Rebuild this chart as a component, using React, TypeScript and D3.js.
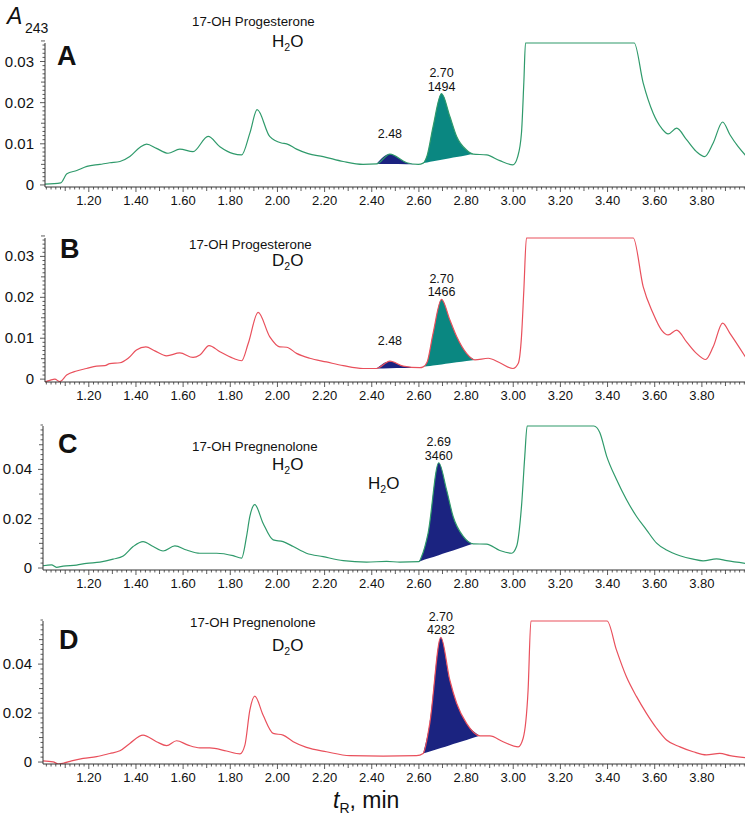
import * as d3 from "d3";

// retention time (min), absorbance at 243 nm
const traceA: [number, number][] = [
  [1.0136, 0.0002], [1.081, 0.0005], [1.107, 0.0027], [1.149, 0.0035], [1.192, 0.0045],
  [1.247, 0.005], [1.289, 0.0054], [1.332, 0.0057], [1.374, 0.0069], [1.416, 0.0091],
  [1.445, 0.0099], [1.487, 0.0089], [1.536, 0.0077], [1.586, 0.0087], [1.642, 0.0081],
  [1.706, 0.0118], [1.756, 0.0093], [1.812, 0.0076], [1.848, 0.0073], [1.883, 0.0126],
  [1.914, 0.0183], [1.967, 0.0118], [2.017, 0.0102], [2.039, 0.01], [2.081, 0.0087],
  [2.13, 0.0076], [2.194, 0.0069], [2.279, 0.0057], [2.363, 0.005], [2.42, 0.0051],
  [2.477, 0.0075], [2.548, 0.0054], [2.597, 0.005], [2.618, 0.0053], [2.635, 0.0072],
  [2.66, 0.0142], [2.696, 0.0222], [2.731, 0.0167], [2.76, 0.0118], [2.802, 0.0085],
  [2.83, 0.0075], [2.887, 0.0073], [2.943, 0.0059], [2.999, 0.0049], [3.019, 0.0069],
  [3.035, 0.0127], [3.045, 0.025], [3.052, 0.0345], [3.513, 0.0345], [3.551, 0.0248],
  [3.593, 0.0175], [3.629, 0.0138], [3.657, 0.0124], [3.693, 0.0138], [3.735, 0.011],
  [3.777, 0.0081], [3.812, 0.0069], [3.848, 0.0102], [3.888, 0.0153], [3.919, 0.0122],
  [3.954, 0.0093], [3.985, 0.0072],
];

const traceB: [number, number][] = [
  [1.0136, -0.0007], [1.035, -0.0003], [1.056, 0.0], [1.077, -0.0006], [1.106, 0.001],
  [1.148, 0.002], [1.19, 0.0026], [1.233, 0.0032], [1.268, 0.0033], [1.289, 0.0038],
  [1.332, 0.004], [1.367, 0.0051], [1.402, 0.0071], [1.442, 0.0079], [1.48, 0.0069],
  [1.53, 0.0057], [1.586, 0.0064], [1.642, 0.0053], [1.671, 0.0059], [1.71, 0.0082],
  [1.756, 0.0067], [1.812, 0.0051], [1.848, 0.0045], [1.876, 0.0087], [1.918, 0.0163],
  [1.967, 0.0104], [2.01, 0.0079], [2.039, 0.0078], [2.081, 0.0063], [2.137, 0.0051],
  [2.208, 0.0042], [2.279, 0.0033], [2.363, 0.0026], [2.42, 0.0026], [2.477, 0.0044],
  [2.533, 0.0032], [2.604, 0.0028], [2.618, 0.003], [2.635, 0.0042], [2.66, 0.0112],
  [2.696, 0.0195], [2.731, 0.0145], [2.76, 0.0104], [2.802, 0.0063], [2.837, 0.0047],
  [2.894, 0.0051], [2.943, 0.004], [2.999, 0.0026], [3.021, 0.0038], [3.035, 0.0104],
  [3.045, 0.0218], [3.056, 0.0345], [3.509, 0.0345], [3.551, 0.0226], [3.593, 0.0161],
  [3.629, 0.012], [3.657, 0.0108], [3.693, 0.012], [3.735, 0.0091], [3.777, 0.0063],
  [3.816, 0.0048], [3.848, 0.0079], [3.888, 0.0137], [3.919, 0.0112], [3.985, 0.0054],
];

const traceC: [number, number][] = [
  [1.004, 0.0009], [1.042, 0.0013], [1.063, 0.0003], [1.091, 0.0008], [1.148, 0.0012],
  [1.19, 0.0019], [1.247, 0.0024], [1.303, 0.0036], [1.346, 0.0049], [1.388, 0.0087],
  [1.43, 0.0107], [1.473, 0.0087], [1.515, 0.0069], [1.565, 0.009], [1.615, 0.0073],
  [1.671, 0.006], [1.742, 0.006], [1.812, 0.005], [1.848, 0.004], [1.869, 0.0128],
  [1.883, 0.0209], [1.904, 0.0257], [1.939, 0.0182], [1.982, 0.0114], [2.024, 0.0107],
  [2.067, 0.0087], [2.123, 0.006], [2.194, 0.0046], [2.279, 0.003], [2.378, 0.0024],
  [2.463, 0.0027], [2.519, 0.0024], [2.6, 0.0026], [2.611, 0.0046], [2.639, 0.0142],
  [2.684, 0.0427], [2.717, 0.0318], [2.745, 0.0209], [2.788, 0.0128], [2.83, 0.0098],
  [2.887, 0.0097], [2.943, 0.0071], [2.993, 0.006], [3.014, 0.0087], [3.035, 0.025],
  [3.049, 0.0454], [3.059, 0.0576], [3.342, 0.0576], [3.367, 0.055], [3.396, 0.0454],
  [3.438, 0.0359], [3.48, 0.0278], [3.523, 0.0209], [3.565, 0.0155], [3.608, 0.0101],
  [3.65, 0.0073], [3.707, 0.005], [3.763, 0.0036], [3.805, 0.0029], [3.862, 0.0037],
  [3.905, 0.003], [3.985, 0.0019],
];

const traceD: [number, number][] = [
  [1.006, 0.0005], [1.049, 0.0001], [1.07, -0.0008], [1.091, -0.0005], [1.127, 0.0005],
  [1.176, 0.0015], [1.233, 0.0022], [1.289, 0.0035], [1.332, 0.0046], [1.374, 0.0076],
  [1.43, 0.011], [1.487, 0.0083], [1.53, 0.0067], [1.572, 0.0087], [1.621, 0.0069],
  [1.671, 0.0058], [1.713, 0.0058], [1.784, 0.0045], [1.841, 0.0033], [1.862, 0.0069],
  [1.883, 0.0212], [1.904, 0.0269], [1.939, 0.0192], [1.982, 0.0117], [2.024, 0.011],
  [2.067, 0.0083], [2.123, 0.006], [2.208, 0.0042], [2.307, 0.0026], [2.448, 0.0024],
  [2.59, 0.0026], [2.618, 0.0035], [2.646, 0.0158], [2.693, 0.0509], [2.731, 0.0335],
  [2.76, 0.024], [2.802, 0.0158], [2.858, 0.0107], [2.901, 0.0107], [2.957, 0.0083],
  [3.021, 0.0062], [3.042, 0.0097], [3.063, 0.0294], [3.075, 0.0576], [3.398, 0.0576],
  [3.438, 0.0457], [3.48, 0.0348], [3.523, 0.0267], [3.565, 0.0199], [3.608, 0.0138],
  [3.65, 0.009], [3.707, 0.0062], [3.763, 0.0042], [3.819, 0.0029], [3.876, 0.0035],
  [3.919, 0.0026], [3.985, 0.0018],
];

// integrated peaks: [from, to] retention times
const fillsA = [
  { from: 2.42, to: 2.597, kind: "navy" },
  { from: 2.618, to: 2.83, kind: "teal" },
];
const fillsB = [
  { from: 2.42, to: 2.604, kind: "navy" },
  { from: 2.618, to: 2.837, kind: "teal" },
];
const fillsC = [{ from: 2.6, to: 2.83, kind: "navy" }];
const fillsD = [{ from: 2.618, to: 2.858, kind: "navy" }];

// peak annotations: retention time, lines of text
const peaksA = [
  { t: 2.477, lines: ["2.48"] },
  { t: 2.696, lines: ["2.70", "1494"] },
];
const peaksB = [
  { t: 2.477, lines: ["2.48"] },
  { t: 2.696, lines: ["2.70", "1466"] },
];
const peaksC = [{ t: 2.684, lines: ["2.69", "3460"] }];
const peaksD = [{ t: 2.693, lines: ["2.70", "4282"] }];

const xTickLabels = ["1.20", "1.40", "1.60", "1.80", "2.00", "2.20", "2.40", "2.60", "2.80", "3.00", "3.20", "3.40", "3.60", "3.80"];
const yTicksSmall = [0, 0.01, 0.02, 0.03];
const yTicksLarge = [0, 0.02, 0.04];

const GREEN = "#2f9a6b";
const RED = "#e9505c";
const FILLS: Record<string, string> = { navy: "#1b2380", teal: "#0a8781" };
const FONT = "Liberation Sans, Arial, Helvetica, sans-serif";

const xScale = d3.scaleLinear().domain([1.01, 3.985]).range([44, 745.5]);

type PanelProps = {
  letter: string;
  trace: [number, number][];
  fills: { from: number; to: number; kind: string }[];
  peaks: { t: number; lines: string[] }[];
  color: string;
  yDomain: [number, number];
  yRange: [number, number];
  axisX: number;
  yTicks: number[];
  minorStep: number;
  compound: string;
  compoundPos: [number, number];
  solvent: string;
  solventPos: [number, number];
  letterPos: [number, number];
};

function SubText({ x, y, a, b, size }: { x: number; y: number; a: string; b: string; size: number }) {
  return (
    <text x={x} y={y} fontSize={size} fontFamily={FONT} fill="#111">
      {a}
      <tspan fontSize={size * 0.62} dy={4}>2</tspan>
      <tspan dy={-4}>{b}</tspan>
    </text>
  );
}

function Panel(p: PanelProps) {
  const y = d3.scaleLinear().domain(p.yDomain).range(p.yRange);
  const bottom = p.yRange[0];
  const top = p.yRange[1];
  const clipId = "clip" + p.letter;

  const line = d3
    .line<[number, number]>()
    .x((d) => xScale(d[0]))
    .y((d) => y(d[1]))
    .curve(d3.curveMonotoneX);

  const areas = p.fills.map((f) => {
    const pts = p.trace.filter((d) => d[0] >= f.from - 1e-6 && d[0] <= f.to + 1e-6);
    const [t0, v0] = pts[0];
    const [t1, v1] = pts[pts.length - 1];
    const base = (t: number) => v0 + ((t - t0) / (t1 - t0)) * (v1 - v0);
    const area = d3
      .area<[number, number]>()
      .x((d) => xScale(d[0]))
      .y0((d) => y(base(d[0])))
      .y1((d) => y(d[1]))
      .curve(d3.curveMonotoneX);
    return { d: area(pts) || "", color: FILLS[f.kind] };
  });

  const yMinor = d3.range(0, Math.round(p.yDomain[1] / p.minorStep) + 1).map((i) => i * p.minorStep);
  const xMinor = d3.range(51, 200).map((i) => i * 0.02).filter((t) => t >= xScale.domain()[0] && t <= xScale.domain()[1]);

  return (
    <g>
      <defs>
        <clipPath id={clipId}>
          <rect x={p.axisX} y={top - 3} width={746 - p.axisX} height={bottom - top + 3} />
        </clipPath>
      </defs>
      <g clipPath={`url(#${clipId})`}>
        {areas.map((a, i) => (
          <path key={i} d={a.d} fill={a.color} stroke="none" />
        ))}
        <path d={line(p.trace) || ""} fill="none" stroke={p.color} strokeWidth={1.2} />
      </g>

      {/* y axis */}
      <line x1={p.axisX} x2={p.axisX} y1={top} y2={bottom} stroke="#333" strokeWidth={1} />
      {yMinor.map((v, i) => {
        const major = p.yTicks.some((t) => Math.abs(t - v) < 1e-9);
        const mid = Math.abs((v / p.minorStep) % 5) < 1e-6;
        const len = major ? 5 : mid ? 4 : 2.5;
        return <line key={i} x1={p.axisX - len} x2={p.axisX} y1={y(v)} y2={y(v)} stroke="#333" strokeWidth={0.8} />;
      })}
      {p.yTicks.map((v) => (
        <text key={v} x={p.axisX - 11} y={y(v) + 5} textAnchor="end" fontSize={15} fontFamily={FONT} fill="#111">
          {v === 0 ? "0" : d3.format(".2f")(v)}
        </text>
      ))}

      {/* x axis */}
      <line x1={p.axisX} x2={745} y1={bottom} y2={bottom} stroke="#333" strokeWidth={1} />
      {xMinor.map((t, i) => {
        const k = Math.round(t * 100);
        const len = k % 20 === 0 ? 5 : k % 10 === 0 ? 4 : 2.5;
        return <line key={i} x1={xScale(t)} x2={xScale(t)} y1={bottom} y2={bottom + len} stroke="#333" strokeWidth={0.8} />;
      })}
      {xTickLabels.map((s) => (
        <text key={s} x={xScale(+s)} y={bottom + 18} textAnchor="middle" fontSize={13} fontFamily={FONT} fill="#111">
          {s}
        </text>
      ))}

      {/* peak annotations */}
      {p.peaks.map((pk) => {
        const pt = p.trace.find((d) => Math.abs(d[0] - pk.t) < 1e-6)!;
        const py = y(pt[1]);
        const last = py - (pk.lines.length === 1 ? 16 : 3);
        return pk.lines.map((s, i) => (
          <text
            key={pk.t + s}
            x={xScale(pk.t)}
            y={last - (pk.lines.length - 1 - i) * 13.5}
            textAnchor="middle"
            fontSize={12.5}
            fontFamily={FONT}
            fill="#111"
          >
            {s}
          </text>
        ));
      })}

      <text x={p.letterPos[0]} y={p.letterPos[1]} fontSize={27} fontWeight="bold" fontFamily={FONT} fill="#111">
        {p.letter}
      </text>
      <text x={p.compoundPos[0]} y={p.compoundPos[1]} fontSize={13.3} fontFamily={FONT} fill="#111">
        {p.compound}
      </text>
      <SubText x={p.solventPos[0]} y={p.solventPos[1]} a={p.solvent} b="O" size={17} />
    </g>
  );
}

export default function App() {
  return (
    <svg width={745} height={824} style={{ position: "absolute", left: 0, top: 0, background: "#fff" }}>
      <text x={7} y={24} fontSize={23} fontStyle="italic" fontFamily={FONT} fill="#111">
        A
      </text>
      <text x={25} y={33} fontSize={14} fontFamily={FONT} fill="#111">
        243
      </text>

      <Panel
        letter="A"
        trace={traceA}
        fills={fillsA}
        peaks={peaksA}
        color={GREEN}
        yDomain={[-0.0005, 0.0345]}
        yRange={[187, 43]}
        axisX={45}
        yTicks={yTicksSmall}
        minorStep={0.001}
        compound="17-OH Progesterone"
        compoundPos={[192, 26]}
        solvent="H"
        solventPos={[272, 47]}
        letterPos={[57, 65]}
      />
      <Panel
        letter="B"
        trace={traceB}
        fills={fillsB}
        peaks={peaksB}
        color={RED}
        yDomain={[-0.0007, 0.0345]}
        yRange={[382, 238]}
        axisX={45}
        yTicks={yTicksSmall}
        minorStep={0.001}
        compound="17-OH Progesterone"
        compoundPos={[189, 249]}
        solvent="D"
        solventPos={[272, 266]}
        letterPos={[60, 258]}
      />
      <Panel
        letter="C"
        trace={traceC}
        fills={fillsC}
        peaks={peaksC}
        color={GREEN}
        yDomain={[-0.0008, 0.0576]}
        yRange={[570, 426]}
        axisX={43}
        yTicks={yTicksLarge}
        minorStep={0.002}
        compound="17-OH Pregnenolone"
        compoundPos={[192, 451]}
        solvent="H"
        solventPos={[272, 470]}
        letterPos={[58, 453]}
      />
      <SubText x={368} y={489} a="H" b="O" size={17} />
      <Panel
        letter="D"
        trace={traceD}
        fills={fillsD}
        peaks={peaksD}
        color={RED}
        yDomain={[-0.0008, 0.0576]}
        yRange={[764, 621]}
        axisX={43}
        yTicks={yTicksLarge}
        minorStep={0.002}
        compound="17-OH Pregnenolone"
        compoundPos={[190, 627]}
        solvent="D"
        solventPos={[272, 651]}
        letterPos={[59, 649]}
      />

      <text x={333} y={808} fontSize={23} fontFamily={FONT} fill="#111">
        <tspan fontStyle="italic">t</tspan>
        <tspan fontSize={14} dy={5}>R</tspan>
        <tspan dy={-5}>, min</tspan>
      </text>
    </svg>
  );
}
